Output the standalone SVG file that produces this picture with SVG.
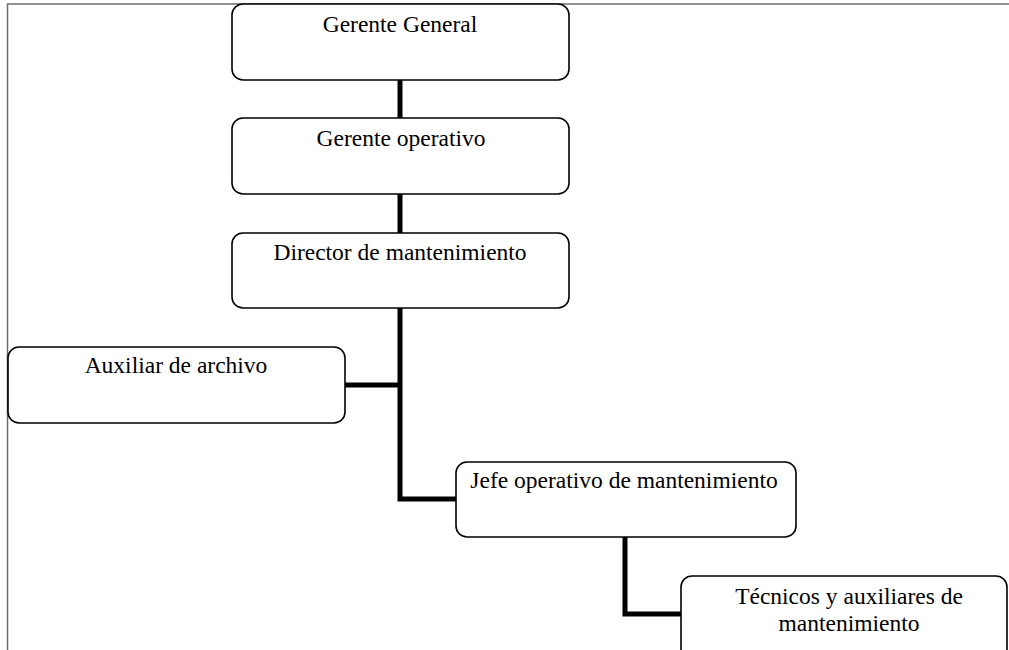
<svg xmlns="http://www.w3.org/2000/svg" width="1009" height="650" viewBox="0 0 1009 650">
  <style>
    .box { fill: #ffffff; stroke: #000000; stroke-width: 1.6; }
    .lbl { font-family: "Liberation Serif", "Times New Roman", serif; font-size: 23.5px; fill: #000000; text-anchor: middle; }
    .link { fill: none; stroke: #000000; stroke-width: 5; stroke-linejoin: miter; }
    .frame { fill: none; stroke: #6e6e6e; stroke-width: 1.5; }
  </style>
  <rect width="1009" height="650" fill="#ffffff"/>

  <!-- page frame (top and left edges) -->
  <path class="frame" d="M7.5 650 V4 H1009"/>

  <!-- connectors -->
  <g id="connectors">
    <path class="link" d="M400 80 V118"/>
    <path class="link" d="M400 194 V233"/>
    <path class="link" d="M400 308 V499 H456"/>
    <path class="link" d="M345 385 H400"/>
    <path class="link" d="M625 537 V614 H681"/>
  </g>

  <g id="gerente-general">
    <rect class="box" x="232" y="4" width="337" height="76" rx="11"/>
    <text class="lbl" x="400" y="32">Gerente General</text>
  </g>

  <g id="gerente-operativo">
    <rect class="box" x="232" y="118" width="337" height="76" rx="11"/>
    <text class="lbl" x="401" y="146">Gerente operativo</text>
  </g>

  <g id="director-mantenimiento">
    <rect class="box" x="232" y="233" width="337" height="75" rx="11"/>
    <text class="lbl" x="400" y="260">Director de mantenimiento</text>
  </g>

  <g id="auxiliar-archivo">
    <rect class="box" x="8" y="347" width="337" height="76" rx="11"/>
    <text class="lbl" x="176" y="373">Auxiliar de archivo</text>
  </g>

  <g id="jefe-operativo">
    <rect class="box" x="456" y="462" width="340" height="75" rx="11"/>
    <text class="lbl" x="624" y="488">Jefe operativo de mantenimiento</text>
  </g>

  <g id="tecnicos-auxiliares">
    <rect class="box" x="681" y="576" width="326" height="90" rx="11"/>
    <text class="lbl" x="849" y="604">Técnicos y auxiliares de</text>
    <text class="lbl" x="849" y="631">mantenimiento</text>
  </g>
</svg>
